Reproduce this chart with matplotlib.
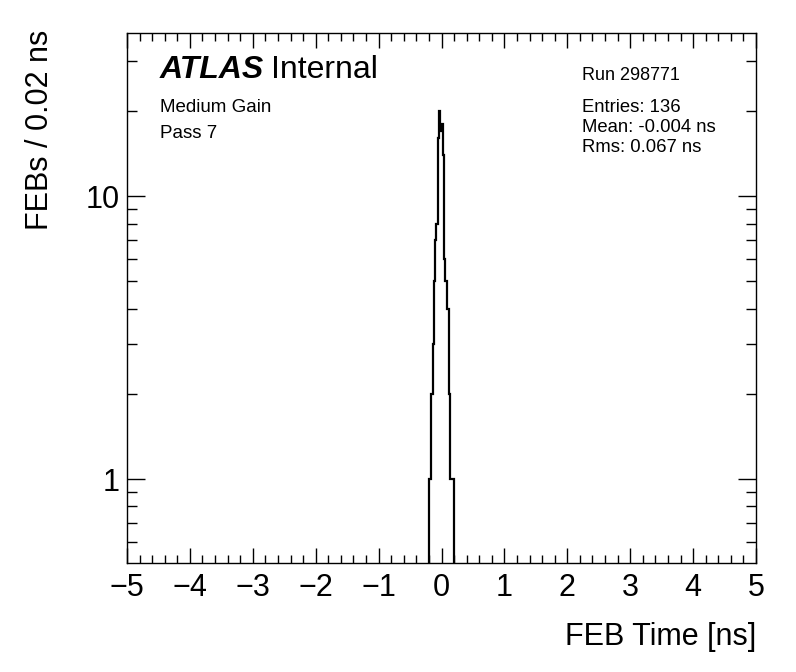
import numpy as np
import matplotlib
matplotlib.use("Agg")
import matplotlib.pyplot as plt
from matplotlib.ticker import LogLocator, NullFormatter, FuncFormatter, MultipleLocator

plt.rcParams['font.family'] = ['Liberation Sans', 'DejaVu Sans']

# histogram: FEB time, 0.02 ns bins, only the non-empty region around 0
bin_lo = -0.20
bin_width = 0.02
counts = [1, 1, 2, 3, 5, 7, 8, 16, 20, 17,
          18, 14, 6, 5, 4, 4, 2, 1, 1, 1]
edges = bin_lo + bin_width * np.arange(len(counts) + 1)

run_label = "Run 298771"
stats_lines = ["Entries: 136", "Mean: -0.004 ns", "Rms: 0.067 ns"]
info_lines = ["Medium Gain", "Pass 7"]

fig = plt.figure(figsize=(7.96, 6.72), dpi=100)
ax = fig.add_axes([127/796, 1 - 563/672, (756-127)/796, (563-33)/672])

ax.stairs(counts, edges, baseline=1e-3, fill=False, color='black', linewidth=1.6)

ax.set_yscale('log')
ax.set_xlim(-5, 5)
ax.set_ylim(0.505, 37.7)

ax.xaxis.set_major_locator(MultipleLocator(1))
ax.xaxis.set_minor_locator(MultipleLocator(0.2))
ax.yaxis.set_major_locator(LogLocator(base=10))
ax.yaxis.set_minor_locator(LogLocator(base=10, subs=np.arange(2, 10)))
ax.yaxis.set_minor_formatter(NullFormatter())
ax.yaxis.set_major_formatter(FuncFormatter(lambda v, p: "%g" % v))

ax.tick_params(which='both', direction='in', top=True, right=True, width=1, labelsize=22)
ax.tick_params(axis='x', which='major', length=11, pad=7)
ax.tick_params(axis='x', which='minor', length=5.5)
ax.tick_params(axis='y', which='major', length=13, pad=5)
ax.tick_params(axis='y', which='minor', length=7)
for s in ax.spines.values():
    s.set_linewidth(1)

fig.text(756/796, 1 - 637/672, "FEB Time [ns]", ha='right', va='center', fontsize=22)
fig.text(40/796, 1 - 30/672, "FEBs / 0.02 ns", ha='center', va='top', rotation=90, fontsize=22)

# ATLAS label
t = ax.text(160/796, 1 - 70/672, "ATLAS", transform=fig.transFigure, fontsize=23,
            fontweight='bold', fontstyle='italic', ha='left', va='center')
fig.canvas.draw()
bb = t.get_window_extent()
fig.text(bb.x1 / fig.bbox.width + 0.009, 1 - 70/672, "Internal", fontsize=23, ha='left', va='center')

for i, line in enumerate(info_lines):
    fig.text(160/796, 1 - (107 + 26*i)/672, line, fontsize=13.5, ha='left', va='center')

fig.text(582/796, 1 - 75/672, run_label, fontsize=13, ha='left', va='center')
for i, line in enumerate(stats_lines):
    fig.text(582/796, 1 - (107 + 20*i)/672, line, fontsize=13.3, ha='left', va='center')

fig.savefig("out.png", dpi=100)
